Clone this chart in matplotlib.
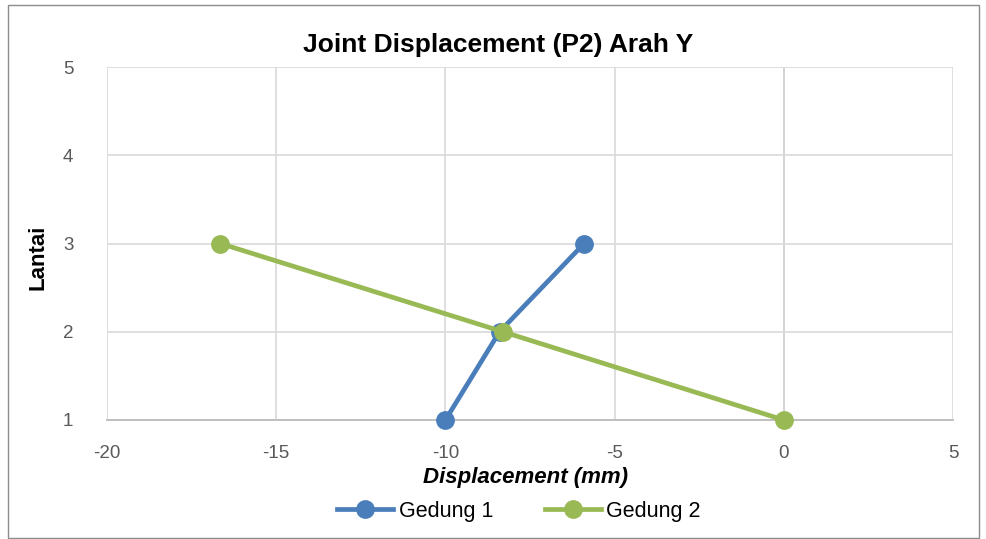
import matplotlib
matplotlib.use("Agg")
import matplotlib.pyplot as plt
from matplotlib.patches import Rectangle

plt.rcParams['font.family'] = ['Liberation Sans', 'DejaVu Sans']
plt.rcParams['axes.unicode_minus'] = False

lantai = [1, 2, 3]
gedung1 = [-10.0, -8.4, -5.9]
gedung2 = [0.0, -8.3, -16.65]
x_ticks = [-20, -15, -10, -5, 0, 5]
y_ticks = [1, 2, 3, 4, 5]

c1 = '#4a7ebb'
c2 = '#98b954'

fig = plt.figure(figsize=(9.87, 5.39), dpi=100)
ax = fig.add_axes([107/987, 1-420/539, (953-107)/987, (420-67)/539])

ax.plot(gedung1, lantai, color=c1, lw=3.4, marker='o', ms=12.5, label='Gedung 1', zorder=3, clip_on=False)
ax.plot(gedung2, lantai, color=c2, lw=3.4, marker='o', ms=12.5, label='Gedung 2', zorder=4, clip_on=False)

ax.set_xlim(-20, 5)
ax.set_ylim(1, 5)
ax.set_xticks(x_ticks)
ax.set_yticks(y_ticks)
ax.grid(True, color='#d9d9d9', lw=1.2, zorder=0)
ax.axvline(0, color='#bfbfbf', lw=1.4, zorder=1)
for s in ['top', 'right', 'left']:
    ax.spines[s].set_visible(False)
ax.spines['bottom'].set_color('#bfbfbf')
ax.spines['bottom'].set_linewidth(1.4)
ax.tick_params(axis='both', length=0, labelsize=13.5, colors='#595959')
ax.tick_params(axis='x', pad=18)
ax.tick_params(axis='y', pad=28)
for lab in ax.get_yticklabels():
    lab.set_horizontalalignment('center')

fig.text(0.505, 1-45/539, 'Joint Displacement (P2) Arah Y', fontsize=19, fontweight='bold',
         ha='center', va='center')
fig.text(0.5325, 1-477/539, 'Displacement (mm)', fontsize=16, fontweight='bold', fontstyle='italic',
         ha='center', va='center')
fig.text(38/987, 1-257/539, 'Lantai', fontsize=16, fontweight='bold', rotation=90,
         ha='center', va='center')

leg = fig.legend(loc='center', bbox_to_anchor=(519/987, 1-511/539), ncol=2, frameon=False,
                 fontsize=15.5, handlelength=2.6, columnspacing=2.4, handletextpad=0.25)

fig.patches.append(Rectangle((8/987, 1-538/539), (979-8)/987, (538-5)/539, transform=fig.transFigure,
                             fill=False, edgecolor='#8c8c8c', lw=1.0))

fig.savefig('out.png', dpi=100)
